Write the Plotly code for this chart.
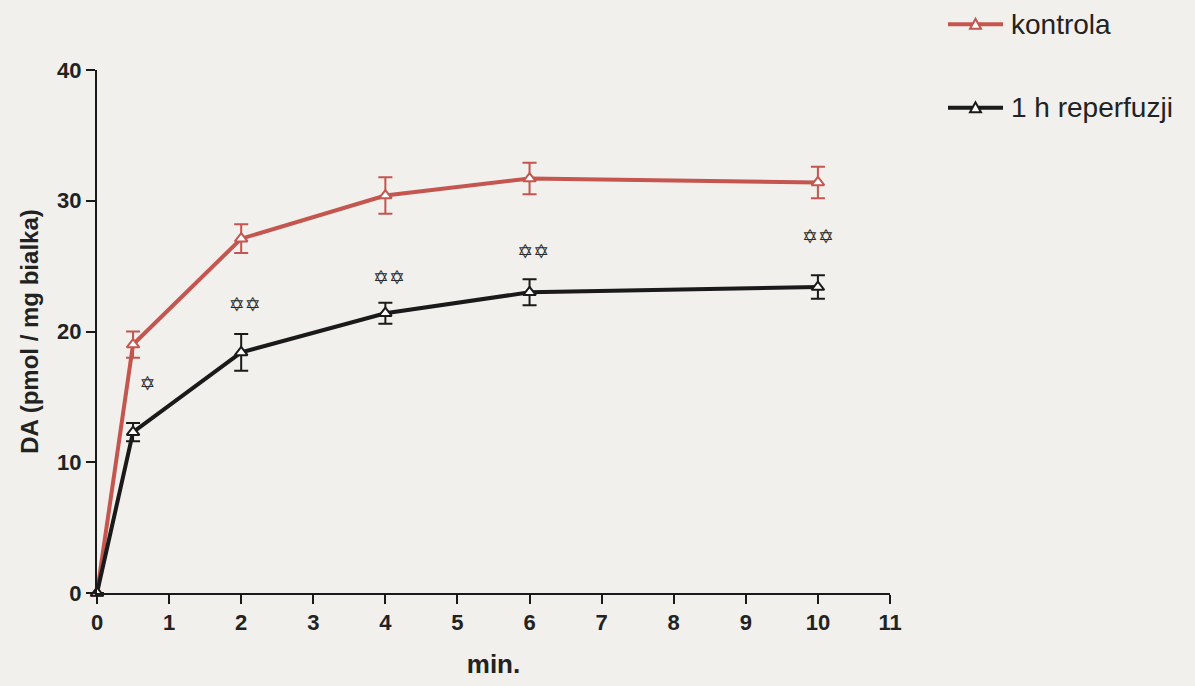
import plotly.graph_objects as go

time_min = [0, 0.5, 2, 4, 6, 10]
kontrola = [0, 19.0, 27.1, 30.4, 31.7, 31.4]
kontrola_err = [0, 1.0, 1.1, 1.4, 1.2, 1.2]
reperfuzji = [0, 12.3, 18.4, 21.4, 23.0, 23.4]
reperfuzji_err = [0, 0.7, 1.4, 0.8, 1.0, 0.9]

sig_x = [0.7, 2.05, 4.05, 6.05, 10.0]
sig_y = [15.9, 21.9, 24.0, 26.0, 27.1]
sig_text = ["✡", "✡✡", "✡✡", "✡✡", "✡✡"]

x_ticks = list(range(0, 12))
y_ticks = [0, 10, 20, 30, 40]

series_names = ["kontrola", "1 h reperfuzji"]

RED = "#c4554f"
BLACK = "#1a1a1a"
BG = "#f1f0ec"
colors = [RED, BLACK]

fig = go.Figure()
for name, vals, errs, col in zip(series_names, [kontrola, reperfuzji], [kontrola_err, reperfuzji_err], colors):
    fig.add_trace(go.Scatter(
        x=time_min, y=vals, name=name, showlegend=False,
        mode="lines+markers",
        line=dict(color=col, width=4),
        marker=dict(symbol="triangle-up", size=11, color="white", line=dict(color=col, width=2)),
        error_y=dict(type="data", array=errs, color=col, thickness=2, width=7),
        cliponaxis=False,
    ))
fig.add_trace(go.Scatter(
    x=sig_x, y=sig_y, text=sig_text, mode="text", showlegend=False,
    textfont=dict(size=19, color="#2a2a2a", family="DejaVu Sans"),
    hoverinfo="skip",
))

# manual legend (paper coordinates), placed in the right margin
W, H = 1195, 686
L, T, B = 97, 70, 89
PW, PH = 793, H - T - B

def px_x(p):
    return (p - L) / PW

def px_y(p):
    return (H - B - p) / PH

legend_rows = [24, 108]
for name, col, row in zip(series_names, colors, legend_rows):
    yy = px_y(row)
    fig.add_shape(type="line", xref="paper", yref="paper",
                  x0=px_x(948), x1=px_x(1003), y0=yy, y1=yy,
                  line=dict(color=col, width=4))
    cx, cy = 975.5, row
    path = "M {} {} L {} {} L {} {} Z".format(
        px_x(cx - 5.5), px_y(cy + 4.5), px_x(cx + 5.5), px_y(cy + 4.5), px_x(cx), px_y(cy - 5.5))
    fig.add_shape(type="path", xref="paper", yref="paper", path=path,
                  fillcolor="white", line=dict(color=col, width=2))
    fig.add_annotation(x=px_x(1009), y=yy, xref="paper", yref="paper",
                       text=name, showarrow=False, xanchor="left", yanchor="middle",
                       font=dict(size=28, color="#222222", family="Liberation Sans"))

fig.update_layout(
    width=W, height=H,
    margin=dict(l=L, r=W - L - PW, t=T, b=B),
    paper_bgcolor=BG, plot_bgcolor=BG,
    font=dict(family="Liberation Sans, Arial", color="#222222"),
    showlegend=False,
    xaxis=dict(
        range=[0, 11], tickvals=x_ticks, ticktext=[str(v) for v in x_ticks],
        showgrid=False, zeroline=False,
        showline=True, linecolor=BLACK, linewidth=2,
        ticks="outside", ticklen=9, tickwidth=2, tickcolor=BLACK,
        tickfont=dict(size=22, family="Liberation Sans", color="#222222", weight="bold"),
        title=dict(text="<b>min.</b>", font=dict(size=26), standoff=20),
    ),
    yaxis=dict(
        range=[0, 40], tickvals=y_ticks, ticktext=[str(v) for v in y_ticks],
        showgrid=False, zeroline=False,
        showline=True, linecolor=BLACK, linewidth=2,
        ticks="outside", ticklen=9, tickwidth=2, tickcolor=BLACK,
        tickfont=dict(size=22, family="Liberation Sans", color="#222222", weight="bold"),
        title=dict(text="<b>DA (pmol / mg bialka)</b>", font=dict(size=24), standoff=12),
    ),
)

fig.write_html("out.html")
